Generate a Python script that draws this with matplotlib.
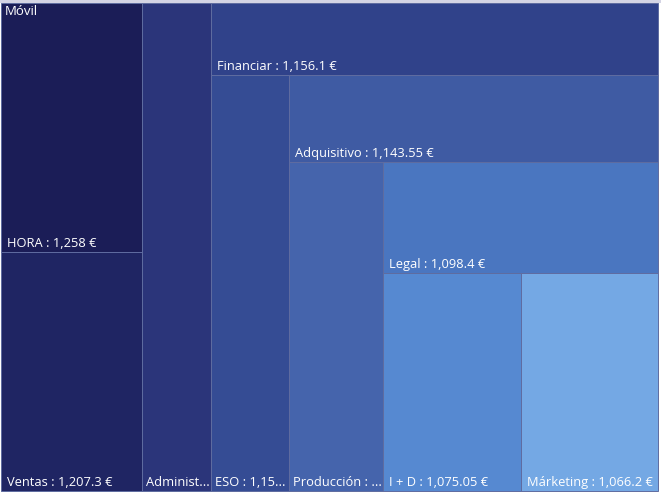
import matplotlib
matplotlib.use("Agg")
import matplotlib.pyplot as plt
from matplotlib.patches import Rectangle

# Datos del treemap (grupo "Móvil")
grupo = "Móvil"
nombres = ["HORA", "Ventas", "Administración", "Financiar", "ESO",
           "Adquisitivo", "Producción", "Legal", "I + D", "Márketing"]
valores = [1258, 1207.3, 1203.6, 1156.1, 1150.85,
           1143.55, 1108.7, 1098.4, 1075.05, 1066.2]
colores = ["#1b1d57", "#1f2563", "#2b357a", "#30428a", "#354c94",
           "#3f5ba3", "#4564ac", "#4a76c0", "#5689d1", "#74a8e4"]

# Tiras del layout: (cantidad de elementos, orientación)
tiras = [(2, 'col'), (1, 'col'), (1, 'row'), (1, 'col'),
         (1, 'row'), (1, 'col'), (1, 'row'), (2, 'row')]

plt.rcParams['font.family'] = ['Open Sans', 'DejaVu Sans']

W, H = 661, 493
fig = plt.figure(figsize=(W / 100, H / 100), dpi=100)
ax = fig.add_axes([0, 0, 1, 1])
ax.set_xlim(0, W)
ax.set_ylim(H, 0)
ax.axis('off')

# Área del treemap en píxeles
x0, y0, x1, y1 = 1, 3, 658, 491
ax.add_patch(Rectangle((0, 0), W, 3, color="#d4d4e4", lw=0))

total = sum(valores)
escala = (x1 - x0) * (y1 - y0) / total

rects = []
i = 0
for n, ori in tiras:
    vals = valores[i:i + n]
    area = sum(vals) * escala
    if ori == 'col':
        w = area / (y1 - y0)
        yy = y0
        for v in vals:
            h = v / sum(vals) * (y1 - y0)
            rects.append((x0, yy, w, h))
            yy += h
        x0 += w
    else:
        h = area / (x1 - x0)
        xx = x0
        for v in vals:
            w = v / sum(vals) * (x1 - x0)
            rects.append((xx, y0, w, h))
            xx += w
        y0 += h
    i += n

fig.canvas.draw()
renderer = fig.canvas.get_renderer()

for (x, y, w, h), nom, val, c in zip(rects, nombres, valores, colores):
    ax.add_patch(Rectangle((x, y), w, h, facecolor=c,
                           edgecolor="#5f6ca0", lw=0.7))
    txt = "{} : {} €".format(nom, "{:,.2f}".format(val).rstrip('0').rstrip('.'))
    t = ax.text(x + 6, y + h - 5, txt, color="white", fontsize=9.3,
                ha='left', va='baseline')
    # recortar con puntos suspensivos si no cabe
    if t.get_window_extent(renderer).width > w - 10:
        t.set_x(x + 4)
        s = txt
        while len(s) > 1:
            s = s[:-1]
            t.set_text(s + "...")
            if t.get_window_extent(renderer).width <= w - 5:
                break

ax.text(5, 5, grupo, color="white", fontsize=9.5, ha='left', va='top')

plt.savefig("out.png", dpi=100)
